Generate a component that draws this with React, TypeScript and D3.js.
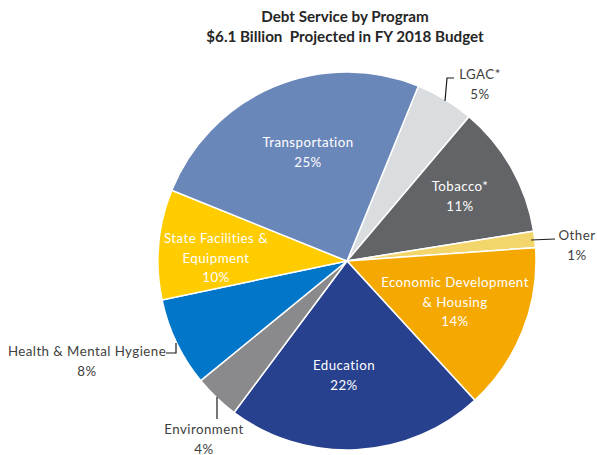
import React from "react";
import * as d3 from "d3";

const categories = [
  "LGAC*",
  "Tobacco*",
  "Other",
  "Economic Development & Housing",
  "Education",
  "Environment",
  "Health & Mental Hygiene",
  "State Facilities & Equipment",
  "Transportation",
];
const values = [5.0, 11.3, 1.4, 14.3, 22.0, 3.9, 7.6, 9.4, 25.05];
const percentLabels = ["5%", "11%", "1%", "14%", "22%", "4%", "8%", "10%", "25%"];
const colors = [
  "#D9DDE0",
  "#636467",
  "#F2D66B",
  "#F5A800",
  "#27418E",
  "#8A8A8C",
  "#0276C9",
  "#FFCC00",
  "#6A87BA",
];
const titleLines = ["Debt Service by Program", "$6.1 Billion  Projected in FY 2018 Budget"];

const labelLines: string[][] = [
  ["LGAC*"],
  ["Tobacco*"],
  ["Other"],
  ["Economic Development", "& Housing"],
  ["Education"],
  ["Environment"],
  ["Health & Mental Hygiene"],
  ["State Facilities &", "Equipment"],
  ["Transportation"],
];
const labelPos: [number, number][] = [
  [480, 79],
  [460, 191],
  [577, 240],
  [455, 287],
  [344, 370],
  [204, 434],
  [87, 356],
  [216, 243],
  [308, 147],
];
const inside = [false, true, false, true, true, false, false, true, true];
const leaders: [number, number][][] = [
  [[445, 101], [447, 78], [454, 78]],
  [],
  [[531, 240], [555, 239]],
  [],
  [],
  [[217, 397], [217, 419]],
  [[166, 353], [176, 353], [176, 343]],
  [],
  [],
];

const cx = 347;
const cy = 261;
const R = 189;
const start = (22.2 * Math.PI) / 180;

export default function App() {
  const pie = d3
    .pie<number>()
    .sort(null)
    .value((d) => d)
    .startAngle(start)
    .endAngle(start + 2 * Math.PI);
  const arcs = pie(values);
  const arcGen = d3.arc<d3.PieArcDatum<number>>().innerRadius(0).outerRadius(R);
  const line = d3.line();
  const font = "Lato, 'Open Sans', sans-serif";
  const lh = 19.5;

  return (
    <svg
      width={597}
      height={455}
      style={{ position: "absolute", left: 0, top: 0, background: "#fff" }}
      fontFamily={font}
    >
      <g textAnchor="middle" fontWeight="bold" fontSize={15.2} fill="#262626">
        {titleLines.map((t, i) => (
          <text key={i} x={345} y={22 + i * 20} xmlSpace="preserve">
            {t}
          </text>
        ))}
      </g>
      <g transform={`translate(${cx},${cy})`}>
        {arcs.map((a, i) => (
          <path key={i} d={arcGen(a) || ""} fill={colors[i]} stroke="#fff" strokeWidth={1.5} />
        ))}
      </g>
      {leaders.map((pts, i) =>
        pts.length ? (
          <path key={i} d={line(pts) || ""} fill="none" stroke="#1a1a1a" strokeWidth={1.2} />
        ) : null
      )}
      {categories.map((c, i) => {
        const lines = [...labelLines[i], percentLabels[i]];
        const [x, y] = labelPos[i];
        return (
          <text
            key={c}
            x={x}
            y={y}
            textAnchor="middle"
            fontSize={13.3}
            letterSpacing={0.45}
            fill={inside[i] ? "#ffffff" : "#404040"}
          >
            {lines.map((l, j) => (
              <tspan key={j} x={x} y={y + j * lh}>
                {l}
              </tspan>
            ))}
          </text>
        );
      })}
    </svg>
  );
}
